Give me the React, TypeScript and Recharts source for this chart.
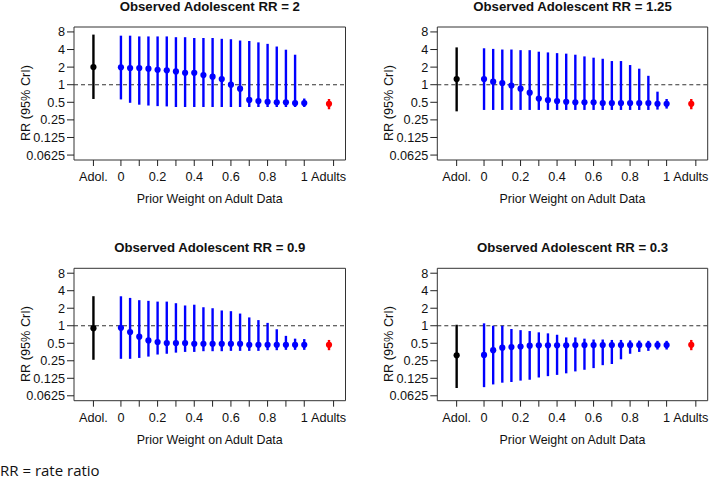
import React from "react";
import { ComposedChart, Scatter, ErrorBar, XAxis, YAxis, ReferenceLine, ReferenceArea } from "recharts";

// prior weight on adult data
const weights = [0, 0.05, 0.1, 0.15, 0.2, 0.25, 0.3, 0.35, 0.4, 0.45, 0.5, 0.55, 0.6, 0.65, 0.7, 0.75, 0.8, 0.85, 0.9, 0.95, 1];

const titles = [
  "Observed Adolescent RR = 2",
  "Observed Adolescent RR = 1.25",
  "Observed Adolescent RR = 0.9",
  "Observed Adolescent RR = 0.3",
];

// adolescent-only estimates, one per panel
const adolMid = [2, 1.25, 0.91, 0.31];
const adolLo = [0.57, 0.35, 0.26, 0.085];
const adolHi = [7.2, 4.35, 3.22, 1.04];

// adult estimate (same in every panel)
const adultMid = [0.47];
const adultLo = [0.38];
const adultHi = [0.57];

const rr2Mid = [1.98, 1.93, 1.93, 1.88, 1.8, 1.76, 1.69, 1.6, 1.6, 1.46, 1.37, 1.25, 1.0, 0.855, 0.55, 0.525, 0.51, 0.5, 0.5, 0.486, 0.486];
const rr2Lo = [0.56, 0.49, 0.455, 0.44, 0.43, 0.425, 0.415, 0.415, 0.415, 0.415, 0.415, 0.415, 0.415, 0.415, 0.415, 0.415, 0.415, 0.415, 0.415, 0.415, 0.415];
const rr2Hi = [6.9, 6.9, 6.7, 6.7, 6.7, 6.7, 6.5, 6.5, 6.3, 6.3, 6.3, 6.1, 6.0, 5.7, 5.6, 5.3, 5.0, 4.5, 3.97, 3.26, 0.58];

const rr125Mid = [1.25, 1.125, 1.07, 0.97, 0.855, 0.73, 0.58, 0.547, 0.525, 0.51, 0.5, 0.5, 0.5, 0.486, 0.486, 0.486, 0.486, 0.486, 0.486, 0.47, 0.47];
const rr125Lo = [0.37, 0.37, 0.37, 0.37, 0.37, 0.37, 0.37, 0.37, 0.37, 0.37, 0.37, 0.37, 0.37, 0.37, 0.37, 0.37, 0.37, 0.37, 0.37, 0.375, 0.39];
const rr125Hi = [4.2, 4.1, 4.0, 4.0, 3.9, 3.9, 3.67, 3.57, 3.47, 3.4, 3.26, 3.05, 2.9, 2.78, 2.54, 2.54, 2.17, 1.88, 1.42, 0.76, 0.57];

const rr09Mid = [0.92, 0.78, 0.65, 0.56, 0.525, 0.505, 0.505, 0.505, 0.49, 0.49, 0.49, 0.49, 0.49, 0.49, 0.47, 0.47, 0.47, 0.47, 0.47, 0.47, 0.47];
const rr09Lo = [0.27, 0.27, 0.28, 0.295, 0.32, 0.33, 0.345, 0.355, 0.355, 0.365, 0.365, 0.365, 0.37, 0.37, 0.37, 0.37, 0.38, 0.38, 0.385, 0.385, 0.385];
const rr09Hi = [3.21, 3.01, 2.75, 2.68, 2.6, 2.6, 2.44, 2.23, 2.3, 2.08, 2.0, 1.83, 1.78, 1.62, 1.39, 1.25, 1.12, 0.87, 0.67, 0.6, 0.59];

const rr03Mid = [0.315, 0.38, 0.42, 0.43, 0.44, 0.455, 0.46, 0.46, 0.46, 0.46, 0.465, 0.465, 0.465, 0.465, 0.465, 0.465, 0.465, 0.465, 0.465, 0.465, 0.465];
const rr03Lo = [0.088, 0.098, 0.105, 0.108, 0.114, 0.118, 0.129, 0.136, 0.143, 0.152, 0.164, 0.175, 0.187, 0.21, 0.22, 0.265, 0.33, 0.355, 0.37, 0.39, 0.39];
const rr03Hi = [1.1, 1.0, 1.0, 0.88, 0.84, 0.81, 0.77, 0.74, 0.7, 0.63, 0.63, 0.6, 0.58, 0.58, 0.57, 0.57, 0.56, 0.555, 0.55, 0.55, 0.55];

const seriesMid = [rr2Mid, rr125Mid, rr09Mid, rr03Mid];
const seriesLo = [rr2Lo, rr125Lo, rr09Lo, rr03Lo];
const seriesHi = [rr2Hi, rr125Hi, rr09Hi, rr03Hi];

// x positions of the extra categories
const adolX = [-0.15];
const adultX = [1.135];

const xTicks = [-0.15, 0, 0.1, 0.2, 0.3, 0.4, 0.5, 0.6, 0.7, 0.8, 0.9, 1, 1.16];
const xTickLabels = ["Adol.", "0", "", "0.2", "", "0.4", "", "0.6", "", "0.8", "", "1", "Adults"];
const yTicks = [0.0625, 0.125, 0.25, 0.5, 1, 2, 4, 8];

const xDomain = [-0.256, 1.225];
const yDomain = [Math.pow(2, -4.28), Math.pow(2, 3.28)];

const FONT = "'Liberation Sans', Arial, sans-serif";
const TICK_SIZE = 12.7;

const layout = [
  { left: 0, top: 0, width: 355, mLeft: 14, mRight: 9.5, mTop: 27, mBottom: 40 },
  { left: 355, top: 0, width: 354, mLeft: 22.3, mRight: 1.3, mTop: 27, mBottom: 40 },
  { left: 0, top: 230, width: 355, mLeft: 14, mRight: 9.5, mTop: 38.3, mBottom: 29.3 },
  { left: 355, top: 230, width: 354, mLeft: 22.3, mRight: 1.3, mTop: 38.3, mBottom: 29.3 },
];
const H = 230;
const Y_W = 60;
const X_H = 30;

const rows = (xs: number[], mid: number[], lo: number[], hi: number[]) =>
  xs.map((x, i) => ({ x, y: mid[i], err: [mid[i] - lo[i], hi[i] - mid[i]] }));

const dot = (color: string) => (p: any) => <circle cx={p.cx} cy={p.cy} r={3.1} fill={color} />;

// R centres "Adults" a little left of its tick
const XTick = (p: any) => {
  const label = xTickLabels[xTicks.indexOf(p.payload.value)] ?? "";
  const shift = label === "Adults" ? -5 : 0;
  return (
    <text x={p.x + shift} y={p.y} dy="0.71em" textAnchor="middle" fontSize={TICK_SIZE} fontFamily={FONT} fill="#111">
      {label}
    </text>
  );
};

function Panel({ idx }: { idx: number }) {
  const l = layout[idx];
  const boxLeft = l.mLeft + Y_W;
  const boxW = l.width - boxLeft - l.mRight;
  const boxTop = l.mTop;
  const boxBottom = H - l.mBottom - X_H;
  const cx = boxLeft + boxW / 2;

  const adol = rows(adolX, [adolMid[idx]], [adolLo[idx]], [adolHi[idx]]);
  const blue = rows(weights, seriesMid[idx], seriesLo[idx], seriesHi[idx]);
  const adult = rows(adultX, adultMid, adultLo, adultHi);

  const center: React.CSSProperties = {
    position: "absolute",
    transform: "translate(-50%, -50%)",
    whiteSpace: "nowrap",
    lineHeight: 1,
    fontFamily: FONT,
    color: "#111",
  };

  return (
    <div style={{ position: "absolute", left: l.left, top: l.top, width: l.width, height: H }}>
      <ComposedChart
        width={l.width}
        height={H}
        margin={{ top: l.mTop, right: l.mRight, left: l.mLeft, bottom: l.mBottom }}
        style={{ overflow: "visible" }}
      >
        <XAxis
          type="number"
          dataKey="x"
          domain={xDomain}
          ticks={xTicks}
          interval={0}
          allowDataOverflow
          height={X_H}
          axisLine={false}
          tickSize={6}
          tickMargin={6}
          tickLine={{ stroke: "#222" }}
          tick={<XTick />}
        />
        <YAxis
          type="number"
          dataKey="y"
          scale="log"
          domain={yDomain}
          ticks={yTicks}
          interval={0}
          allowDataOverflow
          width={Y_W}
          axisLine={false}
          tickSize={7}
          tickMargin={2}
          tickLine={{ stroke: "#222" }}
          tick={{ fontSize: TICK_SIZE, fill: "#111", fontFamily: FONT }}
          tickFormatter={(v: number) => String(v)}
        />
        <ReferenceArea
          x1={xDomain[0]}
          x2={xDomain[1]}
          y1={yDomain[0]}
          y2={yDomain[1]}
          fill="none"
          fillOpacity={0}
          stroke="#333"
          strokeWidth={1}
          ifOverflow="visible"
        />
        <ReferenceLine y={1} stroke="#333" strokeDasharray="4 3" strokeWidth={1.1} />
        <Scatter data={adol} dataKey="y" isAnimationActive={false} shape={dot("#000000")}>
          <ErrorBar dataKey="err" direction="y" width={0} stroke="#000000" strokeWidth={2.4} isAnimationActive={false} />
        </Scatter>
        <Scatter data={blue} dataKey="y" isAnimationActive={false} shape={dot("#0000ff")}>
          <ErrorBar dataKey="err" direction="y" width={0} stroke="#0000ff" strokeWidth={2.4} isAnimationActive={false} />
        </Scatter>
        <Scatter data={adult} dataKey="y" isAnimationActive={false} shape={dot("#ff0000")}>
          <ErrorBar dataKey="err" direction="y" width={0} stroke="#ff0000" strokeWidth={2.4} isAnimationActive={false} />
        </Scatter>
      </ComposedChart>
      <div style={{ ...center, left: cx, top: boxTop - 20.5, fontSize: 13.2, fontWeight: 700 }}>{titles[idx]}</div>
      <div style={{ ...center, left: cx, top: boxBottom + 39, fontSize: 12.4 }}>Prior Weight on Adult Data</div>
      <div
        style={{
          ...center,
          left: boxLeft - 48.5,
          top: (boxTop + boxBottom) / 2 + 9,
          fontSize: TICK_SIZE,
          transform: "translate(-50%, -50%) rotate(-90deg)",
        }}
      >
        RR (95% CrI)
      </div>
    </div>
  );
}

export default function App() {
  return (
    <div style={{ position: "absolute", left: 0, top: 0, width: 709, height: 480, background: "#fff", overflow: "hidden" }}>
      {[0, 1, 2, 3].map((i) => (
        <Panel key={i} idx={i} />
      ))}
      <div
        style={{
          position: "absolute",
          left: 0,
          top: 461,
          fontFamily: "'Open Sans', 'Noto Sans', sans-serif",
          fontSize: 15,
          lineHeight: "18px",
          color: "#111",
          whiteSpace: "nowrap",
        }}
      >
        RR = rate ratio
      </div>
    </div>
  );
}
